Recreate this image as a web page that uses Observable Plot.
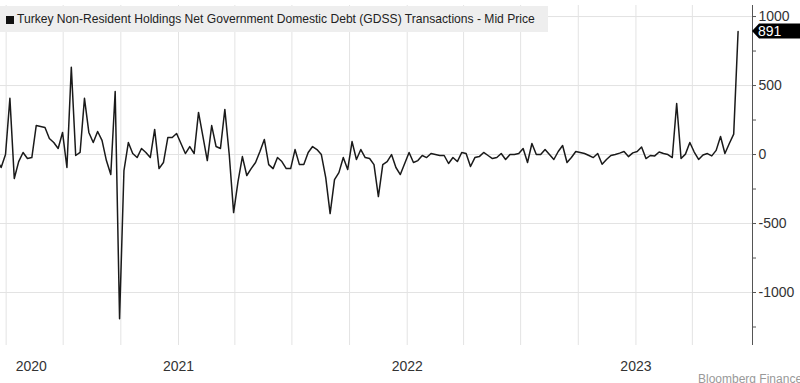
<!DOCTYPE html>
<html>
<head>
<meta charset="utf-8">
<script src="https://cdn.jsdelivr.net/npm/d3@7"></script>
<script src="https://cdn.jsdelivr.net/npm/@observablehq/plot@0.6"></script>
<style>
  html, body { margin: 0; padding: 0; background: #fff; }
  #wrap { position: relative; width: 800px; height: 383px; overflow: hidden; font-family: "Liberation Sans", Arial, sans-serif; }
  #title { position: absolute; left: 0; top: 6px; width: 548px; height: 26px; background: #eeeeee; color: #222;
           font-size: 12.1px; line-height: 26px; padding-left: 6px; box-sizing: border-box; white-space: nowrap; }
  #title .sq { display: inline-block; width: 8px; height: 8px; background: #111; margin-right: 3px; vertical-align: -0.5px; }
  #foot { position: absolute; left: 698px; top: 372px; font-size: 12px; color: #999; white-space: nowrap; }
</style>
</head>
<body>
<div id="wrap">
  <div id="chart"></div>
  <div id="title"><span class="sq"></span>Turkey Non-Resident Holdings Net Government Domestic Debt (GDSS) Transactions - Mid Price</div>
  <div id="foot">Bloomberg Finance L.P.</div>
</div>
<script>
// Weekly net transactions (USD mn)
const startDate = "2020-03-17";
const values = [
  -36, -94, 0, 407, -174, -51, 15, -29, -22, 210,
  203, 196, 116, 87, 44, 160, -94, 632, -7, 15,
  407, 160, 87, 167, 102, -44, -145, 457, -1190, -116,
  87, 7, -22, 44, 15, -22, 182, -102, -58, 123,
  123, 152, 80, 7, 58, 7, 305, 131, -44, 210,
  58, 44, 327, 0, -421, -196, -15, -152, -102, -58,
  22, 109, -73, -102, -22, -51, -102, -102, 36, -73,
  -73, 15, 58, 36, 0, -167, -428, -182, -131, -22,
  -109, 94, -36, 36, -22, -29, -73, -305, -73, -51,
  0, -94, -145, -65, 15, -58, -44, -7, -22, 7,
  0, -7, -7, -65, -22, -51, 15, 7, -87, -22,
  -15, 15, -7, -29, -22, 7, -36, 0, 0, 7,
  44, -58, 80, 0, 0, 36, 0, -36, 22, 65,
  -58, -22, 22, 15, 7, -7, -22, 7, -70, -36,
  -7, 0, 10, 22, -15, 12, 22, 55, -29, -7,
  -10, 18, 7, 0, -22, 370, -29, 3, 87, 18,
  -36, -3, 7, -10, 30, 131, 7, 80, 148, 891
];
const yTicks = [-1000, -500, 0, 500, 1000];
const yMinorTicks = [-1250, -750, -250, 250, 750];
const yearLabels = ["2020", "2021", "2022", "2023"];
const yearLabelDates = ["2020-05-11", "2021-01-01", "2022-01-01", "2023-01-01"];
const gridDates = ["2020-04-01", "2020-07-01", "2020-10-01", "2021-01-01", "2021-04-01", "2021-07-01",
                   "2021-10-01", "2022-01-01", "2022-04-01", "2022-07-01", "2022-10-01", "2023-01-01", "2023-04-01"];
const xDomain = ["2020-03-23", "2023-07-06"];
const yDomain = [-1384, 1080];

const t0 = new Date(startDate);
const data = values.map((v, i) => ({ date: d3.utcDay.offset(t0, 7 * i), value: v }));

const chart = Plot.plot({
  width: 800,
  height: 383,
  marginTop: 5,
  marginRight: 48,
  marginBottom: 38,
  marginLeft: 0,
  style: { background: "white", fontFamily: "'Liberation Sans', Arial, sans-serif", fontSize: "14px", color: "#333" },
  x: { type: "utc", domain: xDomain.map(d => new Date(d)), axis: null },
  y: { domain: yDomain, axis: null },
  marks: [
    Plot.gridX(gridDates.map(d => new Date(d)), { stroke: "#e3e3e3", strokeOpacity: 1 }),
    Plot.gridY(yTicks, { stroke: "#e3e3e3", strokeOpacity: 1 }),
    Plot.ruleX([new Date(xDomain[1])], { stroke: "#555", strokeWidth: 1 }),
    Plot.axisY(yTicks, { anchor: "right", tickSize: 3, tickPadding: 3, tickFormat: d => String(d), label: null, fontSize: 14, stroke: "#555", fill: "#333" }),
    Plot.axisY(yMinorTicks, { anchor: "right", tickSize: 3, tickFormat: () => "", label: null, stroke: "#555" }),
    Plot.text(yearLabels, { x: (d, i) => new Date(yearLabelDates[i]), frameAnchor: "bottom", dy: 25, fontSize: 14, fill: "#333" }),
    Plot.line(data, { x: "date", y: "value", stroke: "#1a1a1a", strokeWidth: 1.5, clip: true })
  ]
});
document.getElementById("chart").appendChild(chart);

// last-value marker on the right axis
const last = values[values.length - 1];
const yPos = chart.scale("y").apply(last);
const xPos = 800 - 48;
const svg = d3.select(chart);
svg.append("path")
  .attr("d", `M${xPos},${yPos} L${xPos + 7},${yPos - 7.5} L800,${yPos - 7.5} L800,${yPos + 7.5} L${xPos + 7},${yPos + 7.5} Z`)
  .attr("fill", "#000");
svg.append("text")
  .attr("x", xPos + 6).attr("y", yPos).attr("dy", "0.35em")
  .attr("text-anchor", "start")
  .attr("fill", "#fff").attr("font-size", 14).attr("font-family", "'Liberation Sans', Arial, sans-serif")
  .text(String(last));
</script>
</body>
</html>
